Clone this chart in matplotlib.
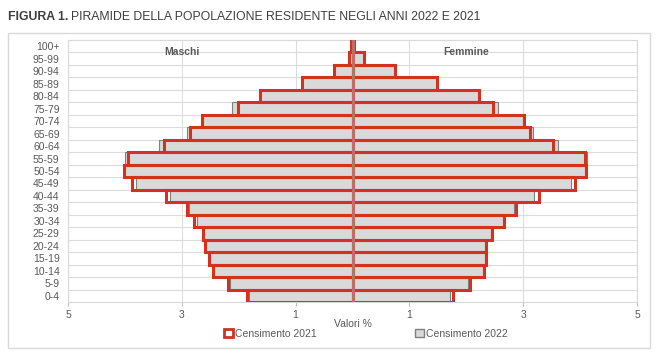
import numpy as np
import matplotlib
matplotlib.use("Agg")
import matplotlib.pyplot as plt
from matplotlib.patches import Patch, Rectangle

plt.rcParams['font.family'] = ['Liberation Sans', 'DejaVu Sans']

classi = ['0-4', '5-9', '10-14', '15-19', '20-24', '25-29', '30-34', '35-39', '40-44',
          '45-49', '50-54', '55-59', '60-64', '65-69', '70-74', '75-79', '80-84',
          '85-89', '90-94', '95-99', '100+']

# valori % (maschi / femmine), censimento 2021 e 2022
maschi_2021 = [1.85, 2.19, 2.46, 2.52, 2.59, 2.63, 2.78, 2.91, 3.27, 3.88, 4.02, 3.94,
               3.32, 2.85, 2.65, 2.01, 1.62, 0.88, 0.33, 0.07, 0.02]
maschi_2022 = [1.82, 2.16, 2.44, 2.50, 2.57, 2.61, 2.74, 2.87, 3.20, 3.80, 4.00, 4.00,
               3.40, 2.90, 2.62, 2.11, 1.62, 0.88, 0.33, 0.07, 0.02]
femmine_2021 = [1.76, 2.07, 2.31, 2.35, 2.35, 2.45, 2.67, 2.87, 3.27, 3.91, 4.11, 4.08,
                3.53, 3.12, 3.02, 2.47, 2.23, 1.49, 0.75, 0.20, 0.02]
femmine_2022 = [1.72, 2.03, 2.29, 2.33, 2.33, 2.43, 2.65, 2.84, 3.19, 3.84, 4.09, 4.13,
                3.62, 3.18, 2.99, 2.56, 2.20, 1.49, 0.75, 0.20, 0.02]

xticks = [-5, -3, -1, 1, 3, 5]

rosso = '#d2321e'
grigio = '#d9d9d9'
bordo_grigio = '#808080'
testo = '#595959'

fig = plt.figure(figsize=(6.69, 3.58), dpi=100)
ax = fig.add_axes([68 / 669, 1 - 302 / 358, 569 / 669, 262 / 358])

y = np.arange(len(classi))
m21 = -np.array(maschi_2021)
m22 = -np.array(maschi_2022)

# 2022: barre grigie piene
ax.barh(y, m22, height=1.0, color=grigio, edgecolor=bordo_grigio, linewidth=0.8, zorder=2)
ax.barh(y, femmine_2022, height=1.0, color=grigio, edgecolor=bordo_grigio, linewidth=0.8, zorder=2)
# 2021: solo contorno rosso
ax.barh(y, m21, height=1.0, fill=False, edgecolor=rosso, linewidth=2.2, zorder=3)
ax.barh(y, femmine_2021, height=1.0, fill=False, edgecolor=rosso, linewidth=2.2, zorder=3)

ax.axvline(0, color='#bd6f66', linewidth=2.2, zorder=4)

ax.set_xlim(-5, 5)
ax.set_ylim(-0.5, len(classi) - 0.5)
ax.set_xticks(xticks)
ax.set_xticklabels([str(abs(v)) for v in xticks])
ax.set_yticks(y)
ax.set_yticklabels(classi)
ax.set_yticks(np.arange(-0.5, len(classi), 1), minor=True)
ax.grid(True, which='minor', axis='y', color='#dcdcdc', linewidth=0.8, zorder=0)
ax.grid(True, which='major', axis='x', color='#dcdcdc', linewidth=0.8, zorder=0)
ax.tick_params(axis='y', which='both', length=0, labelsize=7.5, labelcolor=testo, pad=6)
ax.tick_params(axis='x', length=3, color='#bfbfbf', labelsize=7.5, labelcolor=testo, pad=3)
for s in ax.spines.values():
    s.set_color('#d9d9d9')
    s.set_linewidth(0.8)

ax.set_xlabel('Valori %', fontsize=7.5, color=testo, labelpad=-1)

ax.text(-3, 19.5, 'Maschi', ha='center', va='center', fontsize=7.5, fontweight='bold', color=testo)
ax.text(2, 19.5, 'Femmine', ha='center', va='center', fontsize=7.5, fontweight='bold', color=testo)

handles = [Patch(facecolor='white', edgecolor=rosso, linewidth=2),
           Patch(facecolor=grigio, edgecolor=bordo_grigio, linewidth=1)]
fig.legend(handles, ['Censimento 2021', 'Censimento 2022'], loc='center',
           bbox_to_anchor=(366 / 669, 1 - 334 / 358), ncol=2, frameon=False, fontsize=7.5,
           labelcolor=testo, handlelength=0.8, handleheight=0.8, handletextpad=0.2,
           columnspacing=9.5)

# cornice esterna
fig.patches.append(Rectangle((8 / 669, 1 - 348 / 358), 642 / 669, 315 / 358,
                             transform=fig.transFigure, fill=False,
                             edgecolor='#d9d9d9', linewidth=1))

# titolo
t1 = fig.text(8 / 669, 1 - 17 / 358, 'FIGURA 1.', fontsize=8.8, fontweight='bold',
              color='#3f3f3f', va='center', ha='left')
r = fig.canvas.get_renderer()
bb = t1.get_window_extent(renderer=r)
fig.text((bb.x1 + 3) / 669, 1 - 17 / 358,
         'PIRAMIDE DELLA POPOLAZIONE RESIDENTE NEGLI ANNI 2022 E 2021',
         fontsize=8.8, color='#3f3f3f', va='center', ha='left')

fig.savefig('out.png', dpi=100)
